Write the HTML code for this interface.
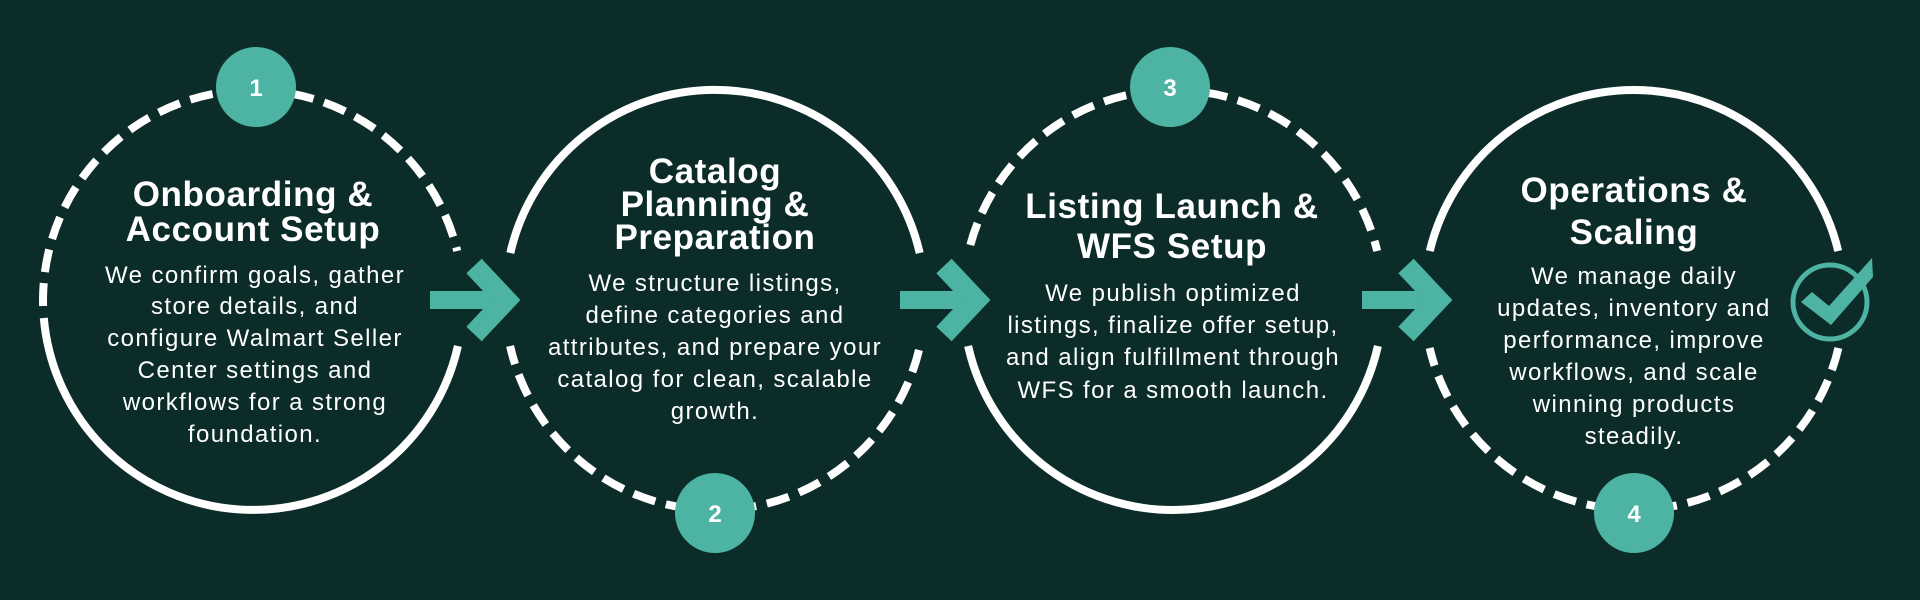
<!DOCTYPE html>
<html><head><meta charset="utf-8"><style>
html,body{margin:0;padding:0;background:#0c2c29;}
svg{display:block}
.t{font-family:"Liberation Sans",sans-serif;font-weight:bold;font-size:35px;letter-spacing:0.6px;fill:#fff;text-anchor:middle}
.b{font-family:"Liberation Sans",sans-serif;font-size:24px;letter-spacing:1.4px;fill:#fff;text-anchor:middle}
.n{font-family:"Liberation Sans",sans-serif;font-weight:bold;font-size:24px;fill:#fff;text-anchor:middle}
</style></head><body>
<svg width="1920" height="600" viewBox="0 0 1920 600" xmlns="http://www.w3.org/2000/svg">
<rect width="1920" height="600" fill="#0c2c29"/>
<g fill="none" stroke="#fff" stroke-width="8">
 <path d="M43.1 306 A210 210 0 0 1 457.2 251" stroke-dasharray="23 11"/>
 <path d="M457.9 346 A210 210 0 0 1 43.8 318"/>
 <path d="M510.3 253 A210 210 0 0 1 919.7 253"/>
 <path d="M919 350 A210 210 0 0 1 510.1 346" stroke-dasharray="23 11"/>
 <path d="M970.3 245 A210 210 0 0 1 1377.2 251" stroke-dasharray="23 11"/>
 <path d="M1377.9 346 A210 210 0 0 1 968.1 346"/>
 <path d="M1429.8 251 A210 210 0 0 1 1838.2 251"/>
 <path d="M1838.4 348 A210 210 0 0 1 1429.6 348" stroke-dasharray="23 11"/>
</g>
<g fill="#4db3a2">
 <circle cx="256" cy="87" r="40"/>
 <circle cx="715" cy="513" r="40"/>
 <circle cx="1170" cy="87" r="40"/>
 <circle cx="1634" cy="513" r="40"/>
</g>
<text class="n" x="256" y="96">1</text>
<text class="n" x="715" y="522">2</text>
<text class="n" x="1170" y="96">3</text>
<text class="n" x="1634" y="522">4</text>
<g id="arr" fill="none" stroke="#4db3a2">
 <line x1="430" y1="300" x2="500" y2="300" stroke-width="18"/>
 <polyline points="474,266 506,300 474,334" stroke-width="21"/>
</g>
<use href="#arr" x="470"/>
<use href="#arr" x="932"/>
<circle cx="1830" cy="302" r="37" fill="none" stroke="#4db3a2" stroke-width="5"/>
<polygon points="1801,302 1812,292 1829,306 1872,258 1873,277 1831,325" fill="#4db3a2"/>

<text class="t" x="253" y="206">Onboarding &amp;</text>
<text class="t" x="253" y="241">Account Setup</text>
<text class="b" x="255" y="283">We confirm goals, gather</text>
<text class="b" x="255" y="314">store details, and</text>
<text class="b" x="255" y="346">configure Walmart Seller</text>
<text class="b" x="255" y="378">Center settings and</text>
<text class="b" x="255" y="410">workflows for a strong</text>
<text class="b" x="255" y="442">foundation.</text>

<text class="t" x="715" y="183">Catalog</text>
<text class="t" x="715" y="216">Planning &amp;</text>
<text class="t" x="715" y="249">Preparation</text>
<text class="b" x="715" y="291">We structure listings,</text>
<text class="b" x="715" y="323">define categories and</text>
<text class="b" x="715" y="355">attributes, and prepare your</text>
<text class="b" x="715" y="387">catalog for clean, scalable</text>
<text class="b" x="715" y="419">growth.</text>

<text class="t" x="1172" y="218">Listing Launch &amp;</text>
<text class="t" x="1172" y="258">WFS Setup</text>
<text class="b" x="1173" y="301">We publish optimized</text>
<text class="b" x="1173" y="333">listings, finalize offer setup,</text>
<text class="b" x="1173" y="365">and align fulfillment through</text>
<text class="b" x="1173" y="398">WFS for a smooth launch.</text>

<text class="t" x="1634" y="202">Operations &amp;</text>
<text class="t" x="1634" y="244">Scaling</text>
<text class="b" x="1634" y="284">We manage daily</text>
<text class="b" x="1634" y="316">updates, inventory and</text>
<text class="b" x="1634" y="348">performance, improve</text>
<text class="b" x="1634" y="380">workflows, and scale</text>
<text class="b" x="1634" y="412">winning products</text>
<text class="b" x="1634" y="444">steadily.</text>
</svg>
</body></html>
